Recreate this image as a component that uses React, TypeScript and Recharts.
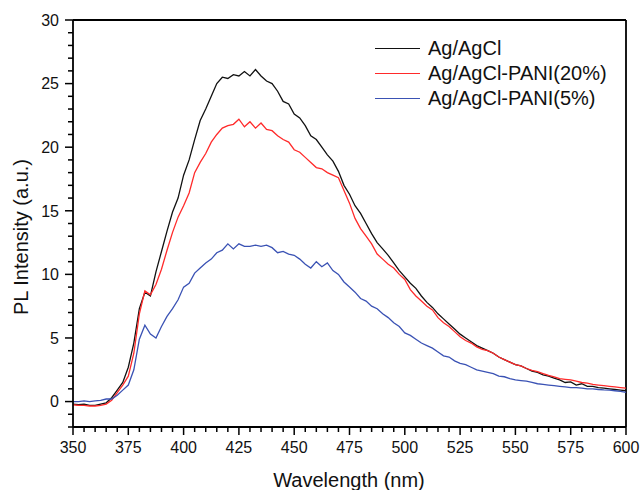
import React from 'react';
import { LineChart, Line, XAxis, YAxis, ReferenceLine, Label } from 'recharts';

// wavelength grid, 2.5 nm step from 350 to 600
const wavelengths = Array.from({ length: 101 }, (_, i) => 350 + i * 2.5);

const agAgCl = [
  -0.2, -0.25, -0.2, -0.3, -0.3, -0.2, -0.1, 0.3, 0.9, 1.5,
  2.7, 4.6, 7.3, 8.6, 8.3, 10.2, 11.8, 13.4, 14.9, 16.0,
  17.8, 19.0, 20.6, 22.1, 23.0, 24.0, 25.0, 25.5, 25.4, 25.7,
  25.6, 25.95, 25.6, 26.1, 25.6, 25.2, 25.0, 24.4, 23.6, 23.4,
  22.6, 22.3, 21.7, 20.9, 20.6, 20.0, 19.4, 18.9, 18.1, 17.0,
  16.3, 15.4, 14.8, 14.0, 13.2, 12.5, 12.0, 11.5, 10.9, 10.3,
  9.8, 9.3, 8.9, 8.3, 7.8, 7.4, 6.9, 6.5, 6.1, 5.7,
  5.3, 5.0, 4.7, 4.4, 4.2, 4.0, 3.8, 3.5, 3.3, 3.1,
  2.9, 2.8, 2.6, 2.4, 2.3, 2.1, 2.0, 1.85, 1.7, 1.5,
  1.55, 1.3, 1.4, 1.2, 1.2, 1.1, 1.05, 1.0, 0.95, 0.9,
  0.85,
];

const pani20 = [
  -0.25, -0.3, -0.3, -0.35, -0.35, -0.3, -0.2, 0.1, 0.7, 1.3,
  2.0, 3.8, 6.9, 8.7, 8.4, 9.2, 10.4, 11.9, 13.3, 14.5,
  15.4, 16.4, 18.0, 18.8, 19.5, 20.4, 21.0, 21.5, 21.7, 21.8,
  22.2, 21.6, 22.0, 21.5, 21.9, 21.4, 21.3, 20.9, 20.6, 20.4,
  19.8, 19.6, 19.2, 18.8, 18.4, 18.3, 18.0, 17.8, 17.6, 16.6,
  15.6, 14.4, 13.6, 13.0, 12.4, 11.6, 11.2, 10.8, 10.5, 10.0,
  9.6, 8.8, 8.3, 7.9, 7.5, 7.2, 6.6, 6.2, 5.9, 5.5,
  5.1, 4.8, 4.6, 4.3, 4.1, 4.0, 3.8, 3.5, 3.3, 3.1,
  2.9, 2.8, 2.6, 2.45, 2.35, 2.2, 2.05, 1.95, 1.8, 1.75,
  1.7, 1.6, 1.5, 1.45, 1.35, 1.3, 1.25, 1.2, 1.15, 1.1,
  1.05,
];

const pani5 = [
  0.0, 0.0, 0.05, 0.0, 0.05, 0.1, 0.2, 0.2, 0.5, 0.9,
  1.3, 2.5, 4.9, 6.0, 5.3, 5.0, 5.9, 6.7, 7.3, 8.0,
  9.0, 9.3, 10.1, 10.5, 10.9, 11.2, 11.7, 11.9, 12.4, 12.0,
  12.4, 12.2, 12.2, 12.3, 12.2, 12.3, 12.1, 11.7, 11.8, 11.6,
  11.5, 11.2, 10.8, 10.5, 11.0, 10.6, 10.9, 10.3, 10.0, 9.4,
  9.0, 8.6, 8.1, 7.9, 7.5, 7.3, 6.9, 6.6, 6.2, 5.9,
  5.4, 5.2, 4.9, 4.6, 4.4, 4.2, 3.9, 3.6, 3.5, 3.2,
  3.0, 2.9, 2.7, 2.5, 2.4, 2.3, 2.2, 2.0, 1.95, 1.8,
  1.7, 1.65, 1.6, 1.5, 1.4, 1.35, 1.3, 1.25, 1.2, 1.15,
  1.1, 1.1, 1.05, 1.0, 1.0, 0.95, 0.92, 0.9, 0.85, 0.8,
  0.73,
];

const xTicks = Array.from({ length: 51 }, (_, i) => 350 + i * 5);
const yTicks = Array.from({ length: 33 }, (_, i) => -2 + i);

const seriesInfo = [
  { key: 'agAgCl', name: 'Ag/AgCl', color: '#111111' },
  { key: 'pani20', name: 'Ag/AgCl-PANI(20%)', color: '#ff2a2a' },
  { key: 'pani5', name: 'Ag/AgCl-PANI(5%)', color: '#3a52b4' },
];

const data = wavelengths.map((w, i) => ({
  wl: w,
  agAgCl: agAgCl[i],
  pani20: pani20[i],
  pani5: pani5[i],
}));

const FONT = '"Liberation Sans", Arial, sans-serif';

function XTick(props: any) {
  const { x, y, payload } = props;
  const major = payload.value % 25 === 0;
  return (
    <g>
      <line x1={x} y1={y} x2={x} y2={y + (major ? 8 : 5)} stroke="#000" strokeWidth={1.5} />
      {major && (
        <text x={x} y={y + 26} textAnchor="middle" fontSize={16} fontFamily={FONT} fill="#111">
          {payload.value}
        </text>
      )}
    </g>
  );
}

function YTick(props: any) {
  const { x, y, payload } = props;
  const major = payload.value % 5 === 0;
  return (
    <g>
      <line x1={x} y1={y} x2={x - (major ? 8 : 5)} y2={y} stroke="#000" strokeWidth={1.5} />
      {major && (
        <text x={x - 14} y={y} dy="0.36em" textAnchor="end" fontSize={16} fontFamily={FONT} fill="#111">
          {payload.value}
        </text>
      )}
    </g>
  );
}

export default function App() {
  return (
    <div style={{ position: 'absolute', left: 0, top: 0, width: 642, height: 490, background: '#fff' }}>
      <LineChart width={642} height={490} data={data} margin={{ top: 20, right: 16, bottom: 0, left: 0 }}>
        <XAxis
          dataKey="wl"
          type="number"
          domain={[350, 600]}
          ticks={xTicks}
          interval={0}
          tick={<XTick />}
          tickLine={false}
          tickSize={0}
          tickMargin={0}
          height={63}
          axisLine={{ stroke: '#000', strokeWidth: 1.8 }}
        >
          <Label
            content={() => (
              <text x={349} y={487} textAnchor="middle" fontSize={20} fontFamily={FONT} fill="#111">
                Wavelength (nm)
              </text>
            )}
          />
        </XAxis>
        <YAxis
          type="number"
          domain={[-2, 30]}
          ticks={yTicks}
          interval={0}
          tick={<YTick />}
          tickLine={false}
          tickSize={0}
          tickMargin={0}
          width={73}
          axisLine={{ stroke: '#000', strokeWidth: 1.8 }}
        >
          <Label
            content={() => (
              <text
                x={28}
                y={237}
                transform="rotate(-90 28 237)"
                textAnchor="middle"
                fontSize={20}
                fontFamily={FONT}
                fill="#111"
              >
                PL Intensity (a.u.)
              </text>
            )}
          />
        </YAxis>
        <ReferenceLine y={30} stroke="#000" strokeWidth={1.8} />
        <ReferenceLine x={600} stroke="#000" strokeWidth={1.8} />
        {seriesInfo.map((s) => (
          <Line
            key={s.key}
            type="linear"
            dataKey={s.key}
            name={s.name}
            stroke={s.color}
            strokeWidth={1.3}
            dot={false}
            isAnimationActive={false}
          />
        ))}
      </LineChart>
      <div style={{ position: 'absolute', left: 375, top: 36, fontFamily: FONT, fontSize: 20, color: '#111' }}>
        {seriesInfo.map((s) => (
          <div key={s.key} style={{ display: 'flex', alignItems: 'center', height: 25 }}>
            <div style={{ width: 45, height: 0, borderTop: `1.5px solid ${s.color}`, marginRight: 8 }} />
            <span style={{ lineHeight: '25px' }}>{s.name}</span>
          </div>
        ))}
      </div>
    </div>
  );
}
